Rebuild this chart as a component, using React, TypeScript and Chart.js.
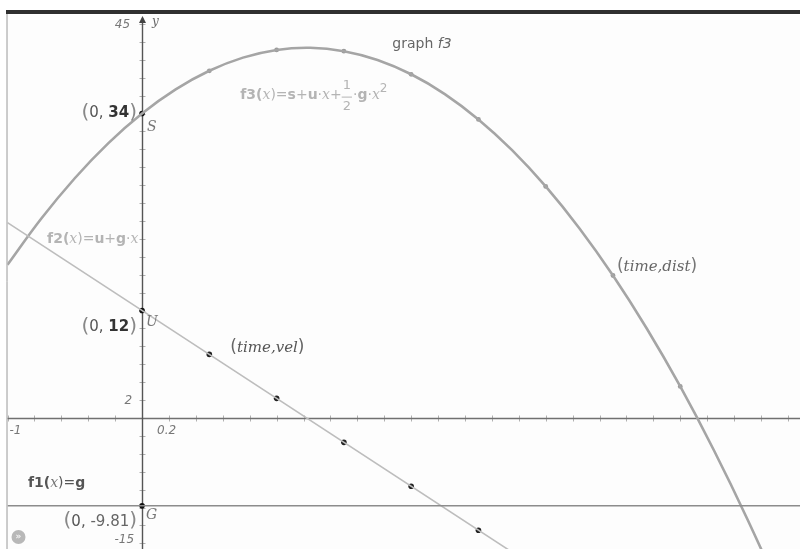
import React, { useEffect, useRef } from "react";
import { Chart, registerables } from "chart.js";

Chart.register(...registerables);

// ---- data ----
const time = [0.5, 1, 1.5, 2, 2.5, 3, 3.5, 4];
const dist = [38.77, 41.1, 40.96, 38.38, 33.34, 25.86, 15.91, 3.52];
const vel = [7.1, 2.19, -2.72, -7.62, -12.53, -17.43, -22.34, -27.24];

const f3X = [-1, -0.75, -0.5, -0.25, 0, 0.25, 0.5, 0.75, 1, 1.25, 1.5, 1.75, 2, 2.25, 2.5, 2.75, 3, 3.25, 3.5, 3.75, 4, 4.25, 4.5, 4.75, 5];
const f3Y = [17.1, 22.24, 26.77, 30.69, 34, 36.69, 38.77, 40.24, 41.1, 41.34, 40.96, 39.98, 38.38, 36.17, 33.34, 29.91, 25.86, 21.19, 15.91, 10.02, 3.52, -3.6, -11.33, -19.67, -28.63];

const f2X = [-1, 4];
const f2Y = [21.81, -27.24];

const f1X = [-1, 5];
const f1Y = [-9.81, -9.81];

const axisPtX = [0, 0, 0];
const axisPtY = [34, 12, -9.81];
const axisPtNames = ["S", "U", "G"];
const axisPtValues = ["34", "12", "-9.81"];

const xMin = -1;
const xMax = 4.89;
const yMin = -14.63;
const yMax = 45;
const xStep = 0.2;
const yStep = 2;
const yWindowMin = -15;

const zip = (xs: number[], ys: number[]) => xs.map((x, i) => ({ x, y: ys[i] }));

type Run = [string, string, string, number?];

function drawRuns(ctx: CanvasRenderingContext2D, x: number, y: number, parts: Run[], align: "left" | "right" = "left") {
  ctx.textBaseline = "middle";
  ctx.textAlign = "left";
  let total = 0;
  for (const p of parts) {
    ctx.font = p[1];
    total += ctx.measureText(p[0]).width;
  }
  let cx = align === "right" ? x - total : x;
  for (const p of parts) {
    ctx.font = p[1];
    ctx.fillStyle = p[2];
    ctx.fillText(p[0], cx, y + (p[3] || 0));
    cx += ctx.measureText(p[0]).width;
  }
  return cx;
}

const SANS = '"DejaVu Sans", sans-serif';
const SERIF = '"DejaVu Serif", serif';

const decorPlugin = {
  id: "decor",
  beforeDatasetsDraw(chart: any) {
    const { ctx, chartArea, scales } = chart;
    const xs = scales.x, ys = scales.y;
    const x0 = Math.round(xs.getPixelForValue(0)) + 0.5;
    const y0 = Math.round(ys.getPixelForValue(0)) + 0.5;
    ctx.save();
    ctx.fillStyle = "#fdfdfd";
    ctx.fillRect(chartArea.left, chartArea.top, chartArea.right - chartArea.left, chartArea.bottom - chartArea.top);
    ctx.strokeStyle = "#b0b0b0";
    ctx.lineWidth = 1;
    const nx0 = Math.ceil(xMin / xStep - 1e-6);
    const nx1 = Math.floor(xMax / xStep + 1e-6);
    for (let i = nx0; i <= nx1; i++) {
      const p = Math.round(xs.getPixelForValue(i * xStep)) + 0.5;
      ctx.beginPath();
      ctx.moveTo(p, y0 - 3);
      ctx.lineTo(p, y0 + 3);
      ctx.stroke();
    }
    const ny0 = Math.ceil(yMin / yStep - 1e-6);
    const ny1 = Math.floor(yMax / yStep + 1e-6);
    for (let i = ny0; i <= ny1; i++) {
      const p = Math.round(ys.getPixelForValue(i * yStep)) + 0.5;
      ctx.beginPath();
      ctx.moveTo(x0 - 3, p);
      ctx.lineTo(x0 + 3, p);
      ctx.stroke();
    }
    ctx.strokeStyle = "#707070";
    ctx.lineWidth = 1.6;
    ctx.beginPath();
    ctx.moveTo(chartArea.left, y0);
    ctx.lineTo(chartArea.right, y0);
    ctx.stroke();
    ctx.strokeStyle = "#555555";
    ctx.lineWidth = 1.4;
    ctx.beginPath();
    ctx.moveTo(x0, chartArea.top + 3);
    ctx.lineTo(x0, chartArea.bottom);
    ctx.stroke();
    ctx.fillStyle = "#444";
    ctx.beginPath();
    ctx.moveTo(x0, chartArea.top + 1);
    ctx.lineTo(x0 - 3.5, chartArea.top + 8);
    ctx.lineTo(x0 + 3.5, chartArea.top + 8);
    ctx.closePath();
    ctx.fill();
    ctx.restore();
  },
  afterDatasetsDraw(chart: any) {
    const { ctx, chartArea, scales } = chart;
    const xs = scales.x, ys = scales.y;
    const px = (v: number) => xs.getPixelForValue(v);
    const py = (v: number) => ys.getPixelForValue(v);
    const x0 = px(0);
    const y0 = py(0);
    ctx.save();
    ctx.fillStyle = "#303030";
    ctx.fillRect(chartArea.left - 1.5, chartArea.top - 5, chartArea.right - chartArea.left + 2, 4);
    ctx.strokeStyle = "#9a9a9a";
    ctx.lineWidth = 1;
    ctx.beginPath();
    ctx.moveTo(chartArea.left - 0.5, chartArea.top - 1);
    ctx.lineTo(chartArea.left - 0.5, chartArea.bottom);
    ctx.stroke();

    const winFont = `italic 12px ${SANS}`;
    drawRuns(ctx, x0 - 12, chartArea.top + 10, [[String(yMax), winFont, "#777"]], "right");
    drawRuns(ctx, x0 + 10, chartArea.top + 7, [["y", `italic 12px ${SERIF}`, "#666"]]);
    drawRuns(ctx, x0 - 10, y0 - 17, [[String(yStep), winFont, "#777"]], "right");
    drawRuns(ctx, x0 + 15, y0 + 13, [[String(xStep), winFont, "#777"]]);
    drawRuns(ctx, chartArea.left + 2, y0 + 13, [[String(xMin), winFont, "#777"]]);
    drawRuns(ctx, x0 - 8, py(yWindowMin) - 12, [[String(yWindowMin), winFont, "#777"]], "right");

    const parFont = `20px ${SANS}`;
    const offs = [
      { lx: -5, ly: 0, nx: 5, ny: 14 },
      { lx: -5, ly: 17, nx: 4, ny: 12 },
      { lx: -5, ly: 16, nx: 4, ny: 10 },
    ];
    axisPtY.forEach((v, i) => {
      const o = offs[i];
      const isNeg = axisPtValues[i].startsWith("-");
      drawRuns(
        ctx,
        x0 + o.lx,
        py(v) + o.ly,
        [
          ["(", parFont, "#888", -1],
          ["0, ", `15px ${SANS}`, "#555"],
          [axisPtValues[i], isNeg ? `15px ${SANS}` : `bold 15px ${SANS}`, isNeg ? "#666" : "#333"],
          [")", parFont, "#888", -1],
        ],
        "right"
      );
      drawRuns(ctx, x0 + o.nx, py(v) + o.ny, [[axisPtNames[i], `italic 14px ${SERIF}`, "#777"]]);
    });

    drawRuns(ctx, px(1.86), py(41.7), [
      ["graph ", `14px ${SANS}`, "#666"],
      ["f3", `italic 14px ${SANS}`, "#666"],
    ]);

    const lg = "#b4b4b4";
    const fs = `14px ${SANS}`;
    const fb = `bold 14px ${SANS}`;
    const fi = `italic 14px ${SERIF}`;
    const fy = py(36.0);
    let cx = drawRuns(ctx, px(0.73), fy, [
      ["f3(", fb, lg],
      ["x", fi, lg],
      [")=", fs, lg],
      ["s", fb, lg],
      ["+", fs, lg],
      ["u", fb, lg],
      ["·", fs, lg],
      ["x", fi, lg],
      ["+", fs, lg],
    ]);
    ctx.font = `13px ${SANS}`;
    const fw = ctx.measureText("2").width;
    ctx.fillStyle = lg;
    ctx.textAlign = "center";
    ctx.fillText("1", cx + fw / 2 + 1, fy - 10);
    ctx.fillText("2", cx + fw / 2 + 1, fy + 11);
    ctx.strokeStyle = lg;
    ctx.lineWidth = 1;
    ctx.beginPath();
    ctx.moveTo(cx, fy + 1.5);
    ctx.lineTo(cx + fw + 2, fy + 1.5);
    ctx.stroke();
    cx += fw + 3;
    cx = drawRuns(ctx, cx, fy, [
      ["·", fs, lg],
      ["g", fb, lg],
      ["·", fs, lg],
      ["x", fi, lg],
      ["2", `12px ${SANS}`, lg, -7],
    ]);

    drawRuns(ctx, px(-0.706), py(19.93), [
      ["f2(", fb, lg],
      ["x", fi, lg],
      [")=", fs, lg],
      ["u", fb, lg],
      ["+", fs, lg],
      ["g", fb, lg],
      ["·", fs, lg],
      ["x", fi, lg],
    ]);

    const dg = "#555";
    drawRuns(ctx, px(-0.848), py(-7.31), [
      ["f1(", `bold 14px ${SANS}`, dg],
      ["x", `italic 14px ${SERIF}`, "#777"],
      [")=", `14px ${SANS}`, dg],
      ["g", `bold 14px ${SANS}`, dg],
    ]);

    const pl = `italic 15px ${SERIF}`;
    drawRuns(ctx, px(time[0]) + 21, py(vel[0]) - 6, [
      ["(", `17px ${SANS}`, "#666", -1],
      ["time,vel", pl, "#555"],
      [")", `17px ${SANS}`, "#666", -1],
    ]);
    drawRuns(ctx, px(time[6]) + 4, py(dist[6]) - 8, [
      ["(", `17px ${SANS}`, "#777", -1],
      ["time,dist", pl, "#666"],
      [")", `17px ${SANS}`, "#777", -1],
    ]);

    ctx.fillStyle = "#b8b8b8";
    ctx.beginPath();
    ctx.arc(chartArea.left + 11, chartArea.bottom - 12, 7, 0, Math.PI * 2);
    ctx.fill();
    ctx.fillStyle = "#f4f4f4";
    ctx.font = `bold 9px ${SANS}`;
    ctx.textAlign = "center";
    ctx.textBaseline = "middle";
    ctx.fillText("»", chartArea.left + 11, chartArea.bottom - 12);
    ctx.restore();
  },
};

export default function App() {
  const ref = useRef<HTMLCanvasElement | null>(null);
  useEffect(() => {
    document.body.style.margin = "0";
    document.body.style.background = "#ffffff";
    const canvas = ref.current;
    if (!canvas) return;
    const chart = new Chart(canvas, {
      type: "scatter",
      data: {
        datasets: [
          { type: "line", label: "f1", data: zip(f1X, f1Y), borderColor: "#8c8c8c", borderWidth: 1.5, pointRadius: 0, tension: 0 },
          { type: "line", label: "f2", data: zip(f2X, f2Y), borderColor: "#bdbdbd", borderWidth: 1.6, pointRadius: 0, tension: 0 },
          { type: "line", label: "f3", data: zip(f3X, f3Y), borderColor: "#a5a5a5", borderWidth: 2.6, pointRadius: 0, tension: 0.4 },
          { label: "dist", data: zip(time, dist), backgroundColor: "#9a9a9a", borderColor: "#9a9a9a", pointRadius: 2.4, borderWidth: 0 },
          { label: "vel", data: zip(time, vel), backgroundColor: "#222", borderColor: "#222", pointRadius: 2.8, borderWidth: 0 },
          { label: "axis points", data: zip(axisPtX, axisPtY), backgroundColor: "#111", borderColor: "#111", pointRadius: 2.8, borderWidth: 0 },
        ],
      } as any,
      options: {
        animation: false,
        responsive: true,
        maintainAspectRatio: false,
        layout: { autoPadding: false, padding: { left: 7.5, top: 15, right: 0, bottom: 0 } },
        plugins: {
          legend: { display: false },
          tooltip: { enabled: false },
          title: { display: false },
        },
        scales: {
          x: { type: "linear", min: xMin, max: xMax, display: false },
          y: { type: "linear", min: yMin, max: yMax, display: false },
        },
      } as any,
      plugins: [decorPlugin],
    });
    return () => chart.destroy();
  }, []);
  return (
    <div style={{ position: "absolute", left: 0, top: 0, width: 800, height: 549, background: "#fff" }}>
      <canvas ref={ref} />
    </div>
  );
}
